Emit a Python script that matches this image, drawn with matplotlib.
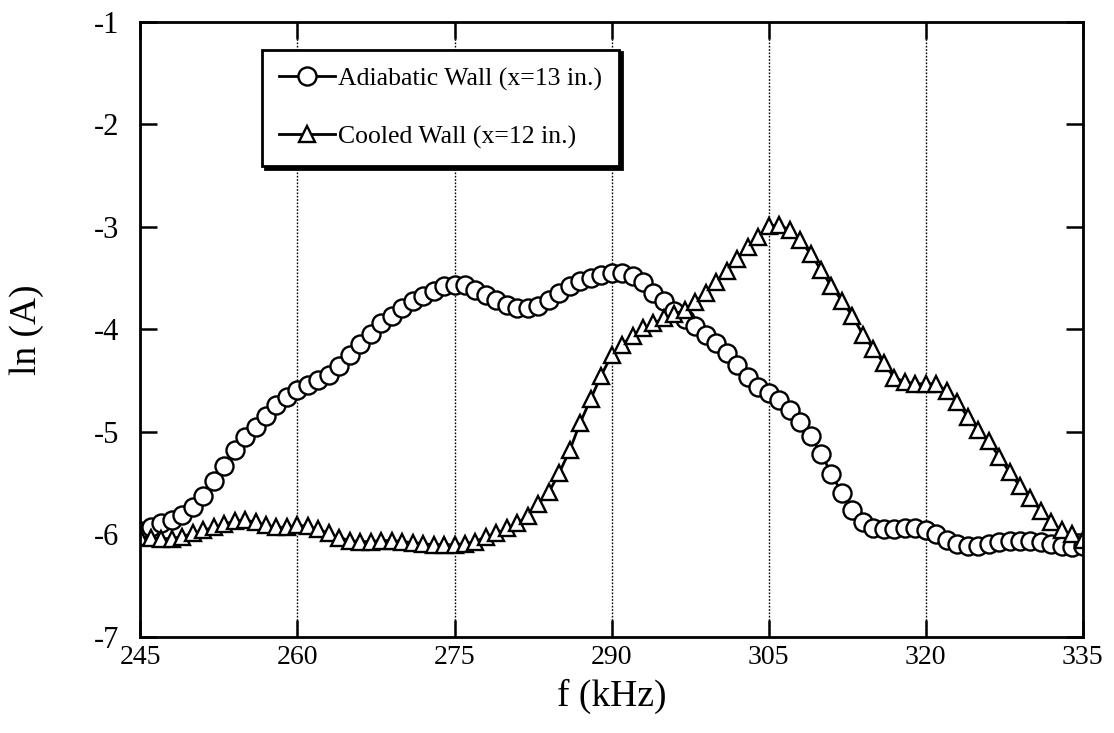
import numpy as np
import matplotlib.pyplot as plt

plt.rcParams['font.family'] = ['Liberation Serif', 'DejaVu Serif']
plt.rcParams['axes.unicode_minus'] = False

# frequency grid (kHz), one sample per kHz
freq = np.arange(245, 336)

adiabatic = [
    -5.97, -5.93, -5.89, -5.86, -5.81, -5.73, -5.62, -5.48, -5.33, -5.18,
    -5.05, -4.95, -4.84, -4.74, -4.66, -4.59, -4.54, -4.49, -4.44, -4.36,
    -4.25, -4.14, -4.04, -3.94, -3.87, -3.79, -3.72, -3.67, -3.62, -3.58,
    -3.57, -3.57, -3.61, -3.66, -3.71, -3.76, -3.79, -3.79, -3.77, -3.71,
    -3.64, -3.58, -3.53, -3.50, -3.47, -3.45, -3.45, -3.48, -3.54, -3.64,
    -3.72, -3.82, -3.90, -3.97, -4.05, -4.13, -4.23, -4.35, -4.46, -4.56,
    -4.62, -4.69, -4.79, -4.90, -5.04, -5.21, -5.41, -5.60, -5.76, -5.88,
    -5.94, -5.95, -5.95, -5.94, -5.94, -5.96, -6.00, -6.05, -6.09, -6.11,
    -6.11, -6.09, -6.07, -6.06, -6.06, -6.06, -6.07, -6.09, -6.11, -6.12,
    -6.11,
]

cooled = [
    -6.02, -6.03, -6.04, -6.04, -6.02, -5.99, -5.96, -5.93, -5.90, -5.87,
    -5.86, -5.88, -5.91, -5.93, -5.93, -5.91, -5.92, -5.95, -5.99, -6.03,
    -6.06, -6.07, -6.07, -6.06, -6.06, -6.07, -6.08, -6.09, -6.10, -6.10,
    -6.10, -6.09, -6.07, -6.02, -5.99, -5.94, -5.89, -5.82, -5.70, -5.59,
    -5.40, -5.18, -4.91, -4.68, -4.45, -4.25, -4.15, -4.06, -3.99, -3.94,
    -3.89, -3.85, -3.81, -3.73, -3.64, -3.54, -3.43, -3.31, -3.20, -3.10,
    -2.99, -2.98, -3.03, -3.13, -3.26, -3.42, -3.58, -3.72, -3.87, -4.05,
    -4.19, -4.33, -4.47, -4.51, -4.53, -4.53, -4.53, -4.60, -4.71, -4.85,
    -4.98, -5.09, -5.24, -5.39, -5.53, -5.64, -5.77, -5.88, -5.96, -6.00,
    -6.05,
]

x_ticks = [245, 260, 275, 290, 305, 320, 335]
y_ticks = [-7, -6, -5, -4, -3, -2, -1]

fig = plt.figure(figsize=(11.14, 7.33), dpi=100)
ax = fig.add_axes([0.126, 0.131, 0.846, 0.839])

ax.plot(freq, adiabatic, '-', color='black', lw=2, marker='o', ms=13,
        mfc='white', mec='black', mew=1.7, label='Adiabatic Wall (x=13 in.)')
ax.plot(freq, cooled, '-', color='black', lw=2, marker='^', ms=12,
        mfc='white', mec='black', mew=1.7, label='Cooled Wall (x=12 in.)')

ax.set_xlim(245, 335)
ax.set_ylim(-7, -1)
ax.set_xticks(x_ticks)
ax.set_yticks(y_ticks)
ax.set_xticklabels([str(v) for v in x_ticks])
ax.set_yticklabels([str(v) for v in y_ticks])

# vertical dotted grid only
ax.xaxis.grid(True, linestyle=(0, (1.2, 1.2)), color='black', lw=1)
ax.yaxis.grid(False)

ax.tick_params(axis='both', direction='in', length=12, width=1.8,
               top=True, right=True)
ax.tick_params(axis='x', pad=6, labelsize=20)
ax.tick_params(axis='y', pad=15, labelsize=22)
for s in ax.spines.values():
    s.set_linewidth(2)

ax.set_xlabel('f (kHz)', fontsize=27, labelpad=6)
ax.set_ylabel('ln (A)', fontsize=27, labelpad=36)

leg = ax.legend(loc='upper left', bbox_to_anchor=(0.129, 0.955),
                borderaxespad=0, fontsize=18.5, fancybox=False,
                shadow=dict(color='black', alpha=1), framealpha=1,
                edgecolor='black', handlelength=2.15, handletextpad=0.12,
                labelspacing=1.35, borderpad=0.68)
leg.get_frame().set_linewidth(2)

fig.savefig('out.png', dpi=100)
